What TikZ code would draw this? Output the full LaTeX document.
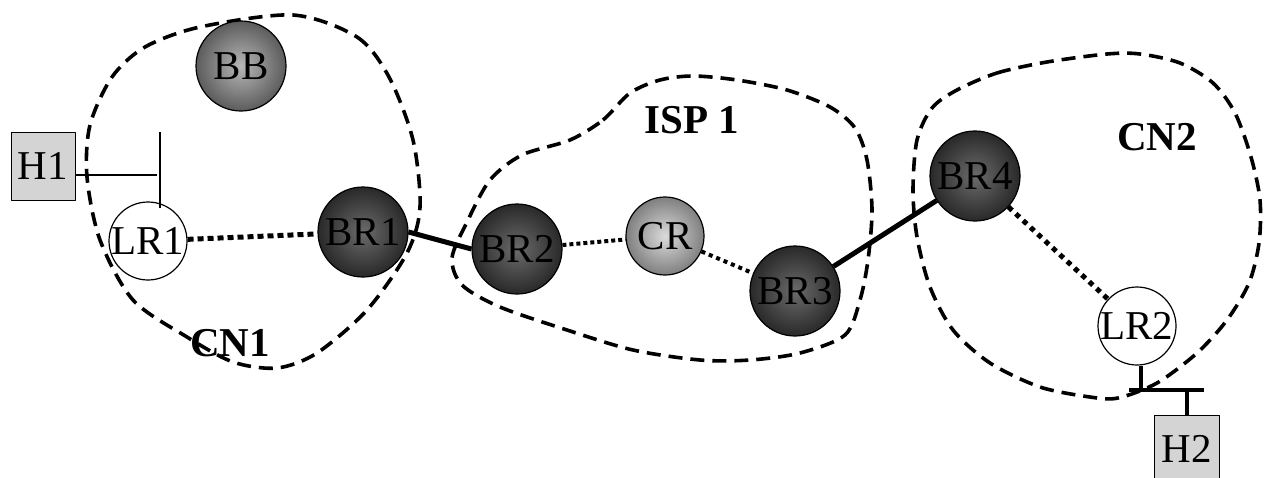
\documentclass[tikz,border=0pt]{standalone}
\usepackage{fontspec}
\setmainfont{Liberation Serif}
\begin{document}
\begin{tikzpicture}[x=1pt, y=-1pt, line join=round, font=\fontsize{41}{45}\selectfont,
		router/.style={circle, draw, line width=1.2pt, minimum size=90pt, inner sep=0pt},
		border/.style={router, inner color=black!58, outer color=black!84},
		local/.style={router, minimum size=78pt},
		host/.style={draw, line width=1pt, fill=black!17, minimum width=64pt, minimum height=68pt, inner sep=0pt},
		cloud/.style={line width=3.6pt, dash pattern=on 14pt off 8pt},
		lbl/.style={font=\fontsize{41}{45}\selectfont\bfseries}]
	\useasboundingbox (0,0) rectangle (1265,477);
	% domaenen
	\draw[cloud] plot[smooth cycle] coordinates {(293,15) (357,37) (389,77) (413,140) (420,207) (407,253) (367,310) (317,353) (277,368) (233,362) (187,337) (133,300) (100,240) (87,177) (90,125) (112,77) (145,47) (200,27)};
	\draw[cloud] plot[smooth cycle] coordinates {(570,140) (603,120) (630,93) (660,80) (693,76) (737,80) (787,90) (830,107) (855,128) (867,160) (872,210) (868,260) (860,300) (845,335) (800,353) (750,360) (700,360) (633,350) (567,330) (500,307) (462,285) (452,258) (467,222) (490,180) (522,155)};
	\draw[cloud] plot[smooth cycle] coordinates {(957,90) (997,73) (1047,62) (1107,54) (1140,54) (1180,63) (1213,83) (1235,113) (1251,157) (1260,200) (1259,243) (1249,283) (1227,320) (1197,353) (1157,383) (1118,398) (1090,397) (1040,387) (990,363) (953,330) (930,287) (917,237) (913,190) (917,140) (932,108)};
	\node[lbl] (cn1) at (230,343) {CN1};
	\node[lbl] (isp1) at (692,120) {ISP 1};
	\node[lbl] (cn2) at (1157,137) {CN2};
	% router
	\node[router, inner color=black!28, outer color=black!64] (BB) at (241,66) {BB};
	\node[local] (LR1) at (148,241) {LR1};
	\node[border] (BR1) at (363,232) {BR1};
	\node[border] (BR2) at (517,249) {BR2};
	\node[router, minimum size=78pt, inner color=black!14, outer color=black!50] (CR) at (665,236) {CR};
	\node[border] (BR3) at (795,291) {BR3};
	\node[border] (BR4) at (975,176) {BR4};
	\node[local] (LR2) at (1137,326) {LR2};
	\node[host] (H1) at (43,166) {H1};
	\node[host, minimum width=65pt] (H2) at (1187,449) {H2};
	% links
	\draw[line width=5pt] (BR1.east) -- (BR2.west);
	\draw[line width=5pt] (BR3) -- (BR4);
	\draw[line width=5pt, dash pattern=on 6pt off 4pt] (LR1) -- (BR1);
	\draw[line width=4pt, dash pattern=on 4pt off 3pt] (BR2) -- (CR);
	\draw[line width=4pt, dash pattern=on 4pt off 4pt] (CR) -- (BR3);
	\draw[line width=5pt, dash pattern=on 5pt off 5pt] (BR4) -- (LR2);
	% anschluesse
	\coordinate (a1) at (160,132); \coordinate (b1) at (160,208); \coordinate (t1) at (157,175);
	\draw[line width=2.2pt] (a1) -- (b1);
	\draw[line width=2.2pt] (H1.east |- t1) -- (t1);
	\coordinate (a2) at (1129,390); \coordinate (b2) at (1204,390);
	\draw[line width=3.5pt] (a2) -- (b2);
	\draw[line width=3.5pt] (LR2.south -| 1141,0) -- (1141,390);
	\draw[line width=3.5pt] (H2.north) -- (H2.north |- b2);
\end{tikzpicture}
\end{document}
